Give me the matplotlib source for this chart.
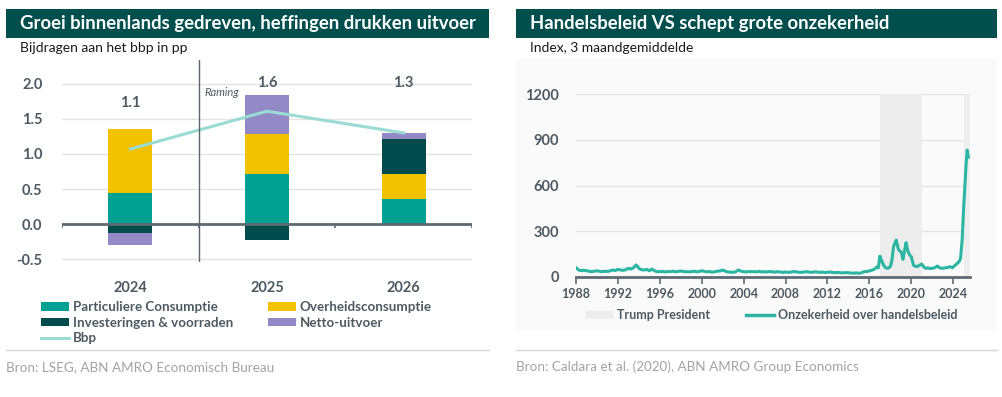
import matplotlib
matplotlib.use("Agg")
import matplotlib.pyplot as plt
from matplotlib.patches import Rectangle, Patch
from matplotlib.lines import Line2D
import numpy as np

plt.rcParams['font.family'] = ['Lato', 'DejaVu Sans']

# ---------------- Data: left chart ----------------
years_left = ["2024", "2025", "2026"]
part_cons = [0.44, 0.72, 0.36]
overheid = [0.92, 0.56, 0.36]
invest = [-0.12, -0.22, 0.50]
netto = [-0.18, 0.56, 0.08]
bbp = [1.07, 1.61, 1.30]
bbp_labels = ["1.1", "1.6", "1.3"]
label_y = [1.73, 2.01, 2.01]

# ---------------- Data: right chart ----------------
tpu_quarterly_start = 1988.0
tpu_quarterly = [
    61, 46, 42, 44,  41, 38, 35, 38,  41, 37, 35, 38,  36, 40, 46, 42,
    50, 46, 44, 48,  57, 52, 62, 79,  57, 48, 46, 50,  41, 52, 40, 35,
    35, 37, 33, 36,  35, 38, 34, 37,  39, 36, 35, 34,  35, 38, 34, 36,
    41, 37, 34, 36,  31, 35, 38, 40,  46, 38, 33, 32,  31, 35, 46, 38,
    35, 33, 36, 35,  35, 34, 37, 33,  35, 33, 36, 34,  32, 35, 33, 30,
    33, 30, 32, 36,  34, 31, 30, 33,  35, 32, 30, 34,  33, 30, 32, 29,
    31, 33, 30, 28,  30, 28, 27, 29,  28, 26, 25, 27,  24, 28, 35, 36,
]
tpu_recent_dates = [
    2016.0, 2016.25, 2016.5, 2016.7, 2016.85, 2017.0, 2017.15, 2017.35, 2017.55, 2017.75,
    2018.0, 2018.15, 2018.3, 2018.45, 2018.56, 2018.7, 2018.8, 2019.0, 2019.1, 2019.2,
    2019.35, 2019.5, 2019.6, 2019.75, 2019.9, 2020.0, 2020.2, 2020.4, 2020.55, 2020.75,
    2021.0, 2021.2, 2021.35, 2021.6, 2021.8, 2022.0, 2022.25, 2022.5, 2022.7, 2022.9,
    2023.2, 2023.45, 2023.7, 2023.9, 2024.2, 2024.4, 2024.6, 2024.7, 2024.85, 2025.0,
    2025.15, 2025.25, 2025.33, 2025.4, 2025.45,
]
tpu_recent = [
    40, 45, 52, 66, 60, 137, 110, 78, 60, 57,
    68, 110, 198, 225, 242, 200, 177, 166, 150, 116,
    170, 225, 190, 155, 140, 133, 78, 70, 68, 76,
    85, 65, 57, 60, 55, 57, 62, 72, 60, 57,
    60, 62, 68, 60, 78, 90, 105, 122, 242, 460,
    650, 766, 832, 800, 786,
]
trump_periods = [(2017.05, 2021.05), (2025.05, 2025.6)]
x_ticks_right = [1988, 1992, 1996, 2000, 2004, 2008, 2012, 2016, 2020, 2024]

# ---------------- Styling ----------------
C_PC = "#00A093"
C_OV = "#F2C100"
C_INV = "#004C4C"
C_NET = "#9489C7"
C_BBP = "#9ADCD3"
C_BAND = "#004F4D"
C_TXT = "#4D5A63"
C_GRID = "#E3E3E3"
C_AXIS = "#5E6A72"

W, H = 1003, 397
fig = plt.figure(figsize=(W / 100, H / 100), dpi=100)

def fx(px):
    return px / W

def fy(py):
    return 1 - py / H

# Right panel light background
fig.patches.append(Rectangle((fx(516), fy(330)), fx(997 - 516), (330 - 58) / H,
                             transform=fig.transFigure, facecolor="#FAFAFA",
                             edgecolor="none", zorder=-5))

# Title bands
for x0, x1, title, sub in [(6, 489, "Groei binnenlands gedreven, heffingen drukken uitvoer",
                            "Bijdragen aan het bbp in pp"),
                           (516, 997, "Handelsbeleid VS schept grote onzekerheid",
                            "Index, 3 maandgemiddelde")]:
    fig.patches.append(Rectangle((fx(x0), fy(38)), fx(x1 - x0), 29 / H,
                                 transform=fig.transFigure, facecolor=C_BAND,
                                 edgecolor="none", zorder=1))
    fig.text(fx(x0 + 14), fy(23.5), title, color="white", fontsize=13.3,
             fontweight="bold", va="center", ha="left")
    fig.text(fx(x0 + 14), fy(48), sub, color="#1a1a1a", fontsize=10,
             va="center", ha="left")
    fig.add_artist(Line2D([fx(x0), fx(x1)], [fy(350), fy(350)], color="#D5D5D5",
                          lw=1, transform=fig.transFigure))

fig.text(fx(6), fy(367), "Bron: LSEG, ABN AMRO Economisch Bureau", color="#A3A3A3",
         fontsize=9.7, va="center", ha="left")
fig.text(fx(516), fy(367), "Bron: Caldara et al. (2020), ABN AMRO Group Economics",
         color="#A3A3A3", fontsize=9.7, va="center", ha="left")

# ---------------- Left chart ----------------
axL = fig.add_axes([fx(62), fy(262), fx(472 - 62), (262 - 60) / H])
x = np.arange(len(years_left))
bw = 0.32
pc = np.array(part_cons)
ov = np.array(overheid)
inv = np.array(invest)
net = np.array(netto)

pos_base = np.zeros(3)
neg_base = np.zeros(3)
for vals, col in [(pc, C_PC), (ov, C_OV), (inv, C_INV), (net, C_NET)]:
    bottoms = np.where(vals >= 0, pos_base, neg_base)
    axL.bar(x, vals, bw, bottom=bottoms, color=col, zorder=3, linewidth=0)
    pos_base = pos_base + np.where(vals >= 0, vals, 0)
    neg_base = neg_base + np.where(vals < 0, vals, 0)

axL.plot(x, bbp, color=C_BBP, lw=2.2, zorder=4)
for xi, lab, ly in zip(x, bbp_labels, label_y):
    axL.text(xi, ly, lab, ha="center", va="center", fontsize=10.5,
             fontweight="bold", color=C_TXT)

axL.set_xlim(-0.5, 2.5)
axL.set_ylim(-0.54, 2.34)
axL.set_yticks([-0.5, 0.0, 0.5, 1.0, 1.5, 2.0])
axL.set_yticklabels(["-0.5", "0.0", "0.5", "1.0", "1.5", "2.0"])
axL.yaxis.grid(True, color=C_GRID, lw=1, zorder=0)
axL.set_axisbelow(True)
axL.set_xticks(x)
axL.set_xticklabels(years_left)
axL.tick_params(axis="both", length=0, labelsize=10.5, labelcolor=C_TXT)
axL.tick_params(axis="x", pad=14)
axL.tick_params(axis="y", pad=14)
for lab in axL.get_xticklabels() + axL.get_yticklabels():
    lab.set_fontweight("bold")
for s in axL.spines.values():
    s.set_visible(False)
axL.axhline(0, color=C_AXIS, lw=2, zorder=5)
axL.vlines([-0.5, 0.5, 1.5, 2.5], -0.06, 0, color=C_AXIS, lw=1.2, zorder=5)
axL.axvline(0.5, color="#5A646B", lw=1, zorder=6)
axL.text(0.545, 1.88, "Raming", fontsize=8, style="italic", color=C_TXT,
         ha="left", va="center")

hL = [Patch(facecolor=C_PC, edgecolor="none"),
      Patch(facecolor=C_INV, edgecolor="none"),
      Line2D([0], [0], color=C_BBP, lw=2.2),
      Patch(facecolor=C_OV, edgecolor="none"),
      Patch(facecolor=C_NET, edgecolor="none")]
lL = ["Particuliere Consumptie", "Investeringen & voorraden", "Bbp",
      "Overheidsconsumptie", "Netto-uitvoer"]
legL = fig.legend(hL, lL, ncol=2, loc="upper left",
                  bbox_to_anchor=(fx(41), fy(301)), frameon=False,
                  fontsize=9.6, handlelength=2.1, handleheight=0.6,
                  handletextpad=0.3, columnspacing=2.6, labelspacing=0.28,
                  borderaxespad=0, borderpad=0)
for t in legL.get_texts():
    t.set_color(C_TXT)
    t.set_fontweight("bold")

# ---------------- Right chart ----------------
axR = fig.add_axes([fx(576), fy(277), fx(970 - 576), (277 - 94) / H])
axR.set_zorder(3)
q_dates = tpu_quarterly_start + np.arange(len(tpu_quarterly)) * 0.25
dates = np.concatenate([q_dates, np.array(tpu_recent_dates)])
vals = np.concatenate([np.array(tpu_quarterly, float), np.array(tpu_recent, float)])

for a, b in trump_periods:
    axR.axvspan(a, b, color="#EDEDED", lw=0, zorder=1)
axR.plot(dates, vals, color="#2CB5A3", lw=2.2, zorder=3, solid_joinstyle="round")

axR.set_xlim(1988, 2025.6)
axR.set_ylim(0, 1200)
axR.set_yticks([0, 300, 600, 900, 1200])
axR.yaxis.grid(True, color=C_GRID, lw=1, zorder=0)
axR.set_axisbelow(True)
axR.set_xticks(x_ticks_right)
axR.tick_params(axis="y", length=0, labelsize=10.5, labelcolor=C_TXT, pad=12)
axR.tick_params(axis="x", length=5, width=1.2, color=C_AXIS, labelsize=9,
                labelcolor=C_TXT, pad=3)
for lab in axR.get_xticklabels() + axR.get_yticklabels():
    lab.set_fontweight("bold")
for k in ["top", "right", "left"]:
    axR.spines[k].set_visible(False)
axR.spines["bottom"].set_color(C_AXIS)
axR.spines["bottom"].set_linewidth(2)
axR.spines["bottom"].set_zorder(5)
axR.set_facecolor("none")

hR = [Patch(facecolor="#EDEDED", edgecolor="none"),
      Line2D([0], [0], color="#2CB5A3", lw=2.5)]
lR = ["Trump President", "Onzekerheid over handelsbeleid"]
legR = fig.legend(hR, lR, ncol=2, loc="center left",
                  bbox_to_anchor=(fx(585), fy(315)), frameon=False,
                  fontsize=9, handlelength=2.3, handleheight=0.6,
                  handletextpad=0.3, columnspacing=2.8, borderaxespad=0,
                  borderpad=0)
for t in legR.get_texts():
    t.set_color(C_TXT)
    t.set_fontweight("bold")

fig.savefig("out.png", dpi=100)
